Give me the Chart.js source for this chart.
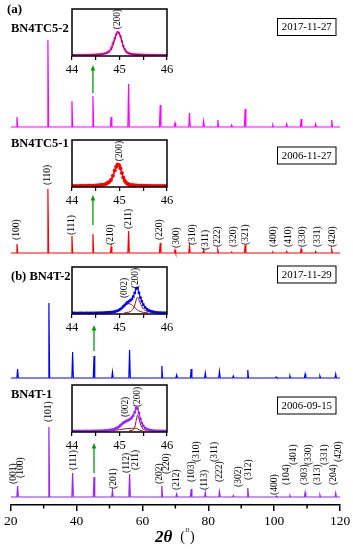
<!DOCTYPE html>
<html><head><meta charset="utf-8">
<script src="https://cdn.jsdelivr.net/npm/chart.js@4.4.0/dist/chart.umd.min.js"></script>
<style>
html,body{margin:0;padding:0;background:#fff;}
#wrap{position:relative;width:353px;height:550px;overflow:hidden;}
canvas{position:absolute;display:block;}
</style></head><body>
<div id="wrap">
<canvas id="main" width="353" height="550" style="left:0;top:0"></canvas>
<canvas id="in0" width="135" height="70"></canvas>
<canvas id="in1" width="135" height="70"></canvas>
<canvas id="in2" width="135" height="70"></canvas>
<canvas id="in3" width="135" height="70"></canvas>
</div>
<script>
// ---------- DATA ----------
const sampleNames = ['BN4TC5-2', 'BN4TC5-1', 'BN4T-2', 'BN4T-1'];
const sampleDates = ['2017-11-27', '2006-11-27', '2017-11-29', '2006-09-15'];
const panelTags = ['(a)', '', '(b)', ''];
const stackOffsets = [378, 252, 127, 8];          // vertical stacking offset (a.u.)
const xTicks = [20, 40, 60, 80, 100, 120];

// peak positions (2θ, °) and heights (a.u.)
const posA = [21.9, 31.3, 38.6, 44.97, 50.5, 55.8, 65.4, 69.9, 74.3, 78.6, 82.9, 87.1, 91.2, 99.6, 103.8, 108.2, 112.6, 117.5];
const posB = [22.1, 31.6, 38.8, 45.3, 50.9, 56.1, 65.9, 70.4, 74.8, 79.1, 83.4, 87.6, 92.0, 100.6, 104.8, 109.4, 113.9, 118.7];
const hBN4TC5_2 = [10, 87, 26, 31, 10, 43, 22, 4, 14, 6, 7, 2, 18, 2, 3, 8, 3, 7];
const hBN4TC5_1 = [9, 64, 17, 19, 6, 22, 10, 3, 7, 3, 3, 1, 8, 1, 1.5, 4, 1.5, 3];
const hBN4T_2   = [9, 75, 26, 22, 6, 28, 12, 3, 9, 5, 6.5, 2, 8, 1, 2, 4, 2, 4];
const hBN4T_1   = [11, 70, 24, 20, 6, 23, 11, 3, 8, 4.5, 5.5, 1.5, 9, 1, 1.5, 4.5, 2, 4];

// Miller index labels: [text, 2θ, lift above baseline]
const hklCubic = [['(100)',21.7,13],['(110)',31.15,68],['(111)',38.45,18],['(210)',50.45,8],['(211)',55.7,24],['(220)',65.3,13],
  ['(300)',70.5,5],['(310)',75.35,8],['(311)',79.3,3],['(222)',82.95,6],['(320)',87.6,6],['(321)',91.4,8],['(400)',99.95,6],
  ['(410)',104.5,6],['(330)',108.5,6],['(331)',113.1,6],['(420)',117.6,6]];
const hklTetra = [['(001)',20.9,13],['(100)',22.9,19],['(101)',31.6,75],['(111)',39.2,27],['(201)',51.1,8],['(112)',55.2,24],['(211)',57.75,27],
  ['(202)',65.1,13],['(220)',67.3,23],['(212)',70.5,7],['(103)',74.9,15],['(310)',76.4,35],['(113)',79.0,7],['(311)',82.0,35],['(222)',83.5,15],
  ['(302)',89.1,10],['(312)',92.1,17],['(400)',100.0,2],['(104)',103.7,12],['(401)',105.8,32],['(303)',109.3,12],['(330)',110.3,32],
  ['(313)',113.3,12],['(331)',115.4,32],['(204)',117.9,12],['(420)',119.4,35]];

// arrows toward insets (from, to in a.u.)
const arrowFrom = [412, 280, 154, 32];
const arrowTo   = [440, 310, 180, 62];

// inset (200) region data
const insetX = [44.00,44.05,44.10,44.15,44.20,44.25,44.30,44.35,44.40,44.45,44.50,44.55,44.60,44.65,44.70,44.74,44.78,44.82,44.86,44.90,
  44.93,44.96,44.99,45.02,45.05,45.08,45.11,45.14,45.17,45.20,45.23,45.26,45.29,45.32,45.35,45.38,45.41,45.44,45.47,45.50,
  45.54,45.58,45.62,45.66,45.70,45.75,45.80,45.85,45.90,45.95,46.00];
const in0Obs = [2.0,2.2,1.8,2.1,2.3,2.0,2.4,2.2,2.6,2.8,3.0,3.4,3.8,4.6,5.8,7.5,10,16,27,38,46,51,49,42,31,21,14,9.5,7,5.5,4.6,4,3.6,3.3,3.1,2.9,2.8,2.7,2.5,2.5,2.3,2.4,2.2,2.1,2.3,2.0,2.2,1.9,2.1,2.0,2.1];
const in0Fit = [2,2,2,2,2,2,2.1,2.2,2.3,2.5,2.7,3,3.3,3.9,4.8,6,8,12,21,34,44,50.5,49,42,31,21,14,9.5,7,5.5,4.5,3.9,3.5,3.2,3,2.8,2.7,2.6,2.5,2.4,2.3,2.3,2.2,2.2,2.1,2.1,2.1,2,2,2,2];
const in1Obs = [2.2,2.0,2.3,2.1,2.4,2.2,2.5,2.4,2.7,2.9,3.1,3.5,4.0,4.8,6.0,7.8,10.5,15,24,35,43,48,46.5,40,30,20,13.5,9,6.8,5.4,4.5,3.9,3.5,3.2,3.0,2.9,2.7,2.6,2.5,2.4,2.3,2.4,2.2,2.3,2.1,2.2,2.0,2.2,2.1,2.0,2.1];
const in1Fit = [2,2,2,2,2,2,2.1,2.2,2.3,2.4,2.6,2.9,3.2,3.8,4.6,6,8.5,13,22,34,42.5,47.5,46,40,29.5,19.5,13,8.6,6.4,5.1,4.3,3.7,3.3,3.0,2.8,2.7,2.6,2.5,2.4,2.3,2.2,2.2,2.1,2.1,2.1,2,2,2,2,2,2];
const in2Obs = [2.2,2.4,2.1,2.3,2.5,2.2,2.4,2.3,2.5,2.4,2.6,2.7,2.8,3.0,3.2,3.4,3.7,4.0,4.5,5.2,6.0,7.0,8.5,10.5,13,16,19,22,25,27,29,32,37,45,54,55,45,35,27,20,14,10,7.5,6,5,4,3.4,3.0,2.8,2.6,2.5];
const in3Obs = [2.0,2.2,2.1,2.3,2.0,2.2,2.4,2.1,2.3,2.4,2.5,2.6,2.8,3.0,3.3,3.6,4.0,4.6,5.5,6.5,7.8,9.5,11.5,14,17,19.5,21.5,23,24.5,26,28,31,35,42,51,50,40,28,19,13,8.5,6,4.5,3.7,3.2,2.8,2.6,2.4,2.3,2.2,2.1];
const in2C002x = [44.80,44.90,45.00,45.05,45.10,45.15,45.20,45.25,45.30,45.35,45.40,45.50,45.60];
const in2C002y = [2.5,4,8,12,17,21,22,20,16,11,7,3.5,2.5];
const in2C200x = [45.10,45.20,45.25,45.30,45.33,45.36,45.38,45.41,45.45,45.50,45.55,45.65,45.75];
const in2C200y = [2.5,4,7,13,22,33,36,30,20,11,7,4,2.5];
const in3C002x = [44.70,44.85,45.00,45.10,45.20,45.30,45.36,45.42,45.50];
const in3C002y = [2.2,3,5,6.5,7.5,8,7.5,4,2.2];
const in3C200x = [45.20,45.28,45.32,45.35,45.38,45.41,45.45,45.50,45.58];
const in3C200y = [2.2,4,10,24,36,28,14,6,2.5];
// inset labels [text, 2θ, lift]
const in0Hkl = [['(200)',44.96,57]];
const in1Hkl = [['(200)',45.0,55]];
const in2Hkl = [['(002)',45.11,34],['(200)',45.34,55]];
const in3Hkl = [['(002)',45.13,32],['(200)',45.38,53]];

// ---------- STYLE ----------
const SERIF = "'Liberation Serif','Times New Roman',serif";
const colors = ['#ff00ff', '#ff0000', '#0000ff', '#9a22ff'];
const FIT = '#a01010';
const GREEN = '#009a00';

function spectrum(pos, h, off) {
  const pts = [{x: 20, y: off}];
  pos.forEach((p, i) => { pts.push({x: p - 0.22, y: off}, {x: p, y: off + h[i]}, {x: p + 0.22, y: off}); });
  pts.push({x: 120, y: off});
  return pts;
}
const xy = (xs, ys) => xs.map((x, i) => ({x, y: ys[i]}));

const seriesPos = [posA, posA, posB, posB];
const seriesH = [hBN4TC5_2, hBN4TC5_1, hBN4T_2, hBN4T_1];
const seriesHkl = [null, hklCubic, null, hklTetra];

function rotText(ctx, t, x, y, size) {
  ctx.save(); ctx.translate(x, y); ctx.rotate(-Math.PI / 2);
  ctx.font = size + 'px ' + SERIF; ctx.textAlign = 'left'; ctx.textBaseline = 'middle';
  ctx.fillStyle = '#000'; ctx.fillText(t, 0, 0); ctx.restore();
}

const mainDeco = {
  id: 'mainDeco',
  afterDraw(chart) {
    const ctx = chart.ctx, xs = chart.scales.x, ys = chart.scales.y;
    const bottom = chart.chartArea.bottom;
    ctx.save();
    // minor ticks
    ctx.strokeStyle = '#000'; ctx.lineWidth = 1.5;
    for (let v = 30; v < 120; v += 20) {
      const px = xs.getPixelForValue(v);
      ctx.beginPath(); ctx.moveTo(px, bottom); ctx.lineTo(px, bottom + 3.5); ctx.stroke();
    }
    // hkl labels
    seriesHkl.forEach((list, s) => {
      if (!list) return;
      list.forEach(([t, x, lift]) => rotText(ctx, t, xs.getPixelForValue(x), ys.getPixelForValue(stackOffsets[s] + lift), 9.5));
    });
    // arrows
    ctx.strokeStyle = GREEN; ctx.fillStyle = GREEN; ctx.lineWidth = 1.3;
    for (let s = 0; s < 4; s++) {
      const px = xs.getPixelForValue(seriesPos[s][3]);
      const y0 = ys.getPixelForValue(arrowFrom[s]), y1 = ys.getPixelForValue(arrowTo[s]);
      ctx.beginPath(); ctx.moveTo(px, y0); ctx.lineTo(px, y1 + 4); ctx.stroke();
      ctx.beginPath(); ctx.moveTo(px, y1); ctx.lineTo(px - 2.3, y1 + 5.5); ctx.lineTo(px + 2.3, y1 + 5.5); ctx.closePath(); ctx.fill();
    }
    // sample names
    ctx.fillStyle = '#000'; ctx.textBaseline = 'middle'; ctx.textAlign = 'left';
    ctx.font = 'bold 13px ' + SERIF;
    ctx.fillText(panelTags[0], 7, 10);
    ctx.font = 'bold 12.5px ' + SERIF;
    ctx.fillText(sampleNames[0], 11, 29);
    ctx.fillText(sampleNames[1], 11, 144);
    ctx.fillText(panelTags[2] + ' ' + sampleNames[2], 11, 277);
    ctx.fillText(sampleNames[3], 11, 395);
    // date boxes
    const boxY = [18.5, 147, 266, 397];
    ctx.font = '10.8px ' + SERIF; ctx.textAlign = 'center';
    ctx.strokeStyle = '#000'; ctx.lineWidth = 1;
    boxY.forEach((by, i) => {
      ctx.strokeRect(277.5, by, 58.5, 17);
      ctx.fillText(sampleDates[i], 306.75, by + 9);
    });
    // x title
    ctx.textAlign = 'left'; ctx.textBaseline = 'alphabetic';
    ctx.font = 'bold italic 17px ' + SERIF;
    let tx = 155;
    ctx.fillText('2θ', tx, 542); tx += ctx.measureText('2θ').width + 8;
    ctx.font = '14px ' + SERIF;
    ctx.fillText('(', tx, 541); tx += ctx.measureText('(').width;
    ctx.font = '8px ' + SERIF;
    ctx.fillText('o', tx + 0.5, 532); tx += ctx.measureText('o').width + 1;
    ctx.font = '14px ' + SERIF;
    ctx.fillText(')', tx, 541);
    ctx.restore();
  }
};

new Chart(document.getElementById('main'), {
  type: 'line',
  data: {
    datasets: [0, 1, 2, 3].map(s => ({
      label: sampleNames[s],
      data: spectrum(seriesPos[s], seriesH[s], stackOffsets[s]),
      borderColor: colors[s], borderWidth: 1.2, pointRadius: 0, tension: 0, fill: false
    }))
  },
  options: {
    responsive: false, animation: false, events: [],
    layout: {padding: {left: 10.7, right: 13, top: 0, bottom: 0}},
    plugins: {legend: {display: false}, tooltip: {enabled: false}},
    scales: {
      x: {
        type: 'linear', min: 20, max: 120,
        afterFit: s => { s.height = 45; },
        afterBuildTicks: s => { s.ticks = [20,30,40,50,60,70,80,90,100,110,120].map(v => ({value: v})); },
        border: {display: true, color: '#000', width: 1.5},
        grid: {drawOnChartArea: false, drawTicks: true, tickLength: 6, lineWidth: 1.5,
          color: c => (c.tick && xTicks.includes(c.tick.value)) ? '#000' : 'rgba(0,0,0,0)'},
        ticks: {autoSkip: false, maxRotation: 0, padding: 2, color: '#000',
          font: {family: SERIF, size: 13.5},
          callback: v => xTicks.includes(v) ? String(v) : ''}
      },
      y: {display: false, min: 0, max: 505}
    }
  },
  plugins: [mainDeco]
});

// ---------- INSETS ----------
const insetTops = [4, 135, 262, 380];
function makeInset(i, datasets, hkl) {
  const cv = document.getElementById('in' + i);
  cv.style.left = '50px'; cv.style.top = insetTops[i] + 'px';
  const deco = {
    id: 'frame' + i,
    afterDraw(chart) {
      const ctx = chart.ctx, a = chart.chartArea, xs = chart.scales.x, ys = chart.scales.y;
      ctx.save();
      ctx.strokeStyle = '#000'; ctx.lineWidth = 1.5;
      ctx.strokeRect(a.left, a.top, a.right - a.left, a.bottom - a.top);
      hkl.forEach(([t, x, lift]) => rotText(ctx, t, xs.getPixelForValue(x), ys.getPixelForValue(lift), 9.3));
      ctx.restore();
    }
  };
  new Chart(cv, {
    type: 'line',
    data: {datasets},
    options: {
      responsive: false, animation: false, events: [],
      layout: {padding: {left: 22, right: 18, top: 5, bottom: 0}},
      plugins: {legend: {display: false}, tooltip: {enabled: false}},
      scales: {
        x: {
          type: 'linear', min: 44, max: 46,
          afterFit: s => { s.height = 18; },
          afterBuildTicks: s => { s.ticks = [44, 44.5, 45, 45.5, 46].map(v => ({value: v})); },
          border: {display: false},
          grid: {drawOnChartArea: false, drawTicks: true, tickLength: 4, lineWidth: 1.2, color: '#000'},
          ticks: {autoSkip: false, maxRotation: 0, padding: 2, color: '#000', font: {family: SERIF, size: 12.5},
            callback: v => Number.isInteger(v) ? String(v) : ''}
        },
        y: {display: false, min: 0, max: 100}
      }
    },
    plugins: [deco]
  });
}
const ptsStyle = (data, color, r, shape) => ({data, borderColor: color, backgroundColor: color, borderWidth: 1.2,
  pointRadius: r, pointStyle: shape, pointBorderWidth: 0, showLine: true, tension: 0, fill: false});
const lineStyle = (data, color) => ({data, borderColor: color, borderWidth: 1, pointRadius: 0, tension: 0.3, fill: false});

makeInset(0, [lineStyle(xy(insetX, in0Fit), FIT), ptsStyle(xy(insetX, in0Obs), colors[0], 1.6, 'rect')], in0Hkl);
makeInset(1, [ptsStyle(xy(insetX, in1Obs), colors[1], 2, 'circle'), lineStyle(xy(insetX, in1Fit), '#0000ff')], in1Hkl);
makeInset(2, [ptsStyle(xy(insetX, in2Obs), colors[2], 1.8, 'rect'), lineStyle(xy(in2C002x, in2C002y), FIT), lineStyle(xy(in2C200x, in2C200y), FIT)], in2Hkl);
makeInset(3, [ptsStyle(xy(insetX, in3Obs), colors[3], 1.8, 'rect'), lineStyle(xy(in3C002x, in3C002y), FIT), lineStyle(xy(in3C200x, in3C200y), FIT)], in3Hkl);
</script>
</body></html>
